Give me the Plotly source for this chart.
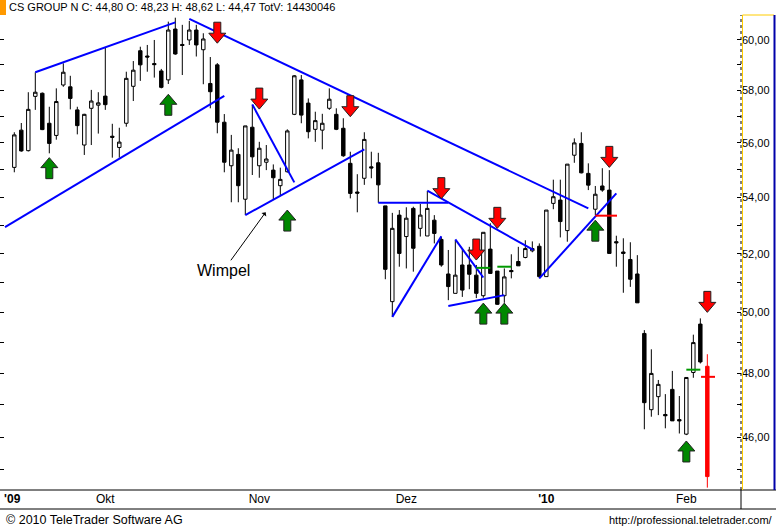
import math
import plotly.graph_objects as go

# ---------------- data (daily candles, trading-day index 0 = 14 Sep 2009) ----------------
open_ = [55.09, 56.48, 55.71, 57.77, 57.89, 56.74, 56.28, 58.21, 58.14, 57.25,
         55.92, 57.31, 57.43, 57.78, 56.25, 55.83, 56.74, 58.16, 59.56, 59.35,
         59.05, 58.76, 58.41, 60.43, 59.81, 59.99, 60.39, 59.60, 58.27, 59.00,
         56.78, 55.15, 55.57, 53.93, 56.59, 55.15, 55.28, 54.99, 54.42, 54.93,
         57.08, 58.41, 57.51, 56.51, 56.48, 57.31, 57.08, 56.55, 55.24, 54.19,
         54.69, 55.11, 55.26, 53.69, 50.36, 53.36, 52.60, 53.60, 52.89, 52.62,
         53.18, 52.50, 51.30, 50.64, 51.61, 51.61, 51.26, 50.56, 52.16, 51.40,
         50.56, 51.42, 51.73, 51.87, 52.10, 52.26, 51.21, 53.78, 53.90, 52.81,
         55.54, 55.98, 54.87, 53.57, 54.41, 54.26, 52.42, 52.06, 51.80, 51.30,
         49.30, 46.85, 47.26, 46.70, 47.49, 46.54, 46.09, 48.03, 49.61, 48.23]
high = [56.40, 56.75, 57.93, 58.71, 57.92, 57.37, 58.08, 59.06, 58.57, 57.37,
        57.10, 58.02, 57.93, 59.67, 56.72, 56.57, 58.73, 59.15, 59.72, 59.79,
        59.99, 58.84, 60.73, 60.89, 60.60, 60.76, 60.60, 60.26, 59.31, 59.07,
        57.09, 56.30, 55.80, 56.64, 57.44, 56.04, 55.92, 55.20, 55.08, 56.51,
        58.60, 58.60, 57.69, 57.18, 57.10, 58.08, 57.31, 56.93, 55.67, 54.84,
        56.40, 55.67, 55.63, 53.69, 53.44, 53.54, 53.64, 53.66, 53.76, 54.23,
        53.36, 52.59, 52.13, 52.47, 52.18, 52.24, 51.61, 52.75, 53.07, 51.40,
        51.49, 51.98, 52.24, 52.47, 52.43, 52.36, 53.54, 54.64, 54.64, 55.21,
        56.17, 56.40, 55.24, 54.41, 55.06, 54.99, 52.63, 52.54, 52.40, 51.95,
        49.41, 48.78, 47.79, 47.34, 48.08, 47.28, 47.87, 49.26, 49.80, 48.62]
low = [54.91, 55.67, 55.68, 57.25, 56.48, 55.61, 56.12, 58.14, 57.27, 56.32,
       55.55, 55.92, 56.35, 57.25, 55.45, 55.45, 56.61, 57.59, 58.37, 58.73,
       58.50, 58.08, 58.25, 59.40, 58.60, 59.79, 59.33, 58.24, 57.31, 56.36,
       54.91, 53.82, 53.82, 53.36, 54.81, 54.71, 54.99, 53.93, 54.08, 54.90,
       57.05, 56.74, 56.17, 56.04, 55.76, 57.25, 56.48, 55.48, 53.96, 53.46,
       54.45, 54.69, 53.80, 51.12, 49.85, 51.55, 51.49, 51.38, 52.60, 52.62,
       52.36, 51.55, 50.41, 50.64, 50.52, 50.78, 50.48, 50.49, 51.30, 50.25,
       50.32, 51.15, 51.58, 51.84, 52.05, 51.15, 51.21, 53.57, 52.57, 52.42,
       55.26, 54.87, 54.26, 53.36, 54.20, 52.01, 51.55, 50.66, 50.86, 50.32,
       46.24, 46.63, 46.68, 46.27, 46.50, 46.11, 46.06, 47.86, 48.32, 44.47]
close = [56.30, 55.70, 57.27, 57.93, 56.50, 55.98, 57.57, 58.71, 57.69, 56.65,
         57.08, 57.59, 57.52, 57.45, 56.21, 56.03, 58.47, 58.79, 59.00, 59.31,
         59.01, 58.12, 60.39, 59.43, 59.77, 60.39, 59.79, 60.03, 57.95, 56.78,
         55.28, 55.73, 54.42, 56.64, 55.48, 55.80, 55.40, 54.71, 54.65, 56.45,
         58.57, 57.05, 56.42, 56.84, 56.74, 57.66, 56.51, 55.52, 54.14, 54.15,
         56.13, 55.07, 54.45, 51.46, 52.89, 52.01, 53.25, 52.19, 53.36, 53.60,
         52.71, 51.61, 50.87, 51.26, 50.75, 51.29, 50.64, 52.75, 51.32, 50.27,
         51.20, 51.38, 51.58, 52.18, 52.18, 51.21, 53.54, 54.02, 53.13, 55.21,
         56.00, 54.89, 54.44, 54.11, 54.26, 52.01, 52.38, 52.01, 51.12, 50.32,
         47.07, 48.00, 47.65, 46.66, 46.50, 46.50, 47.87, 49.00, 48.37, 44.80]

month_tick_idx = [-0.3, 13, 35, 56, 76, 96]
month_tick_text = ["<b>'09</b>", "Okt", "Nov", "Dez", "<b>'10</b>", "Feb"]

price_ticks = list(range(45, 61))
price_tick_text = [f"{v},00" if v % 2 == 0 else "" for v in price_ticks]

# trend lines: start index, start price, end index, end price
trend_x0 = [-1.33, 3, 25, 34, 33, 52, 59, 54, 63, 62, 75]
trend_p0 = [52.93, 58.71, 60.84, 57.46, 53.36, 53.80, 54.24, 49.85, 52.50, 50.21, 51.15]
trend_x1 = [30, 23, 82, 40, 50, 62, 74.14, 61, 67, 70, 86]
trend_p1 = [57.79, 60.70, 53.60, 54.54, 55.76, 53.80, 52.13, 52.61, 51.18, 50.58, 54.14]

# signals (arrow tip positions)
sell_idx = [29, 35, 48, 61, 66, 69, 85, 99]
sell_price = [59.86, 57.28, 56.99, 53.95, 51.78, 52.89, 55.09, 50.00]
buy_idx = [5, 22, 39, 67, 70, 83, 96]
buy_price = [55.45, 57.85, 53.54, 50.31, 50.31, 53.18, 45.88]

# level markers
entry_x0 = [66, 69, 96]
entry_x1 = [68, 71, 98]
entry_price = [51.51, 51.55, 48.12]
stop_x0 = [83, 98.1]
stop_x1 = [86.1, 100.1]
stop_price = [53.34, 47.89]

header = "CS GROUP N C: 44,80 O: 48,23 H: 48,62 L: 44,47 TotV: 14430046"

# ---------------- layout constants ----------------
W, H = 776, 530
M_L, M_R, M_T, M_B = 0, 35, 15, 40
PLOT_W = W - M_L - M_R
PLOT_H = H - M_T - M_B
X_RANGE = [-2.043, 103.81]
P_MIN, P_MAX = 44.40, 61.0
px_per_idx = PLOT_W / (X_RANGE[1] - X_RANGE[0])
px_per_ln = PLOT_H / math.log(P_MAX / P_MIN)

FONT = "Liberation Sans, Arial, sans-serif"

fig = go.Figure()

n = len(open_)
idx = list(range(n))
fig.add_trace(go.Candlestick(
    x=idx[:-1], open=open_[:-1], high=high[:-1], low=low[:-1], close=close[:-1],
    increasing=dict(line=dict(color="black", width=1), fillcolor="white"),
    decreasing=dict(line=dict(color="black", width=1), fillcolor="black"),
    whiskerwidth=0, hoverinfo="skip", showlegend=False))
fig.add_trace(go.Candlestick(
    x=idx[-1:], open=open_[-1:], high=high[-1:], low=low[-1:], close=close[-1:],
    increasing=dict(line=dict(color="#ff0000", width=1), fillcolor="#ff0000"),
    decreasing=dict(line=dict(color="#ff0000", width=1), fillcolor="#ff0000"),
    whiskerwidth=0, hoverinfo="skip", showlegend=False))

# trend lines
tx, ty = [], []
for a, b, c, d in zip(trend_x0, trend_p0, trend_x1, trend_p1):
    tx += [a, c, None]
    ty += [b, d, None]
fig.add_trace(go.Scatter(x=tx, y=ty, mode="lines", line=dict(color="#0000ff", width=2),
                         hoverinfo="skip", showlegend=False))

# level markers
ex, ey = [], []
for a, c, p in zip(entry_x0, entry_x1, entry_price):
    ex += [a, c, None]
    ey += [p, p, None]
fig.add_trace(go.Scatter(x=ex, y=ey, mode="lines", line=dict(color="#009900", width=2),
                         hoverinfo="skip", showlegend=False))
sx, sy = [], []
for a, c, p in zip(stop_x0, stop_x1, stop_price):
    sx += [a, c, None]
    sy += [p, p, None]
fig.add_trace(go.Scatter(x=sx, y=sy, mode="lines", line=dict(color="#ff0000", width=2),
                         hoverinfo="skip", showlegend=False))

# block arrows
HW, HH, SW, TL = 8.5, 10, 3.5, 21
def arrow_poly(i, p, up):
    s = -1 if up else 1  # direction of body from tip (in screen-up pixels)
    pts = [(0, 0), (-HW, s * HH), (-SW, s * HH), (-SW, s * TL), (SW, s * TL), (SW, s * HH), (HW, s * HH), (0, 0)]
    xs = [i + dx / px_per_idx for dx, dy in pts]
    ys = [p * math.exp(dy / px_per_ln) for dx, dy in pts]
    return xs, ys

for (ii, pp, up, col) in [(sell_idx, sell_price, False, "#ff0000"), (buy_idx, buy_price, True, "#008800")]:
    ax_, ay_ = [], []
    for i, p in zip(ii, pp):
        xs, ys = arrow_poly(i, p, up)
        ax_ += xs + [None]
        ay_ += ys + [None]
    fig.add_trace(go.Scatter(x=ax_, y=ay_, mode="lines", fill="toself", fillcolor=col,
                             line=dict(color="#202020", width=1), hoverinfo="skip", showlegend=False))

# Wimpel annotation
fig.add_annotation(x=35.9, y=math.log10(53.46), xref="x", yref="y", text="Wimpel",
                   showarrow=True, arrowhead=1, arrowsize=1, arrowwidth=1, arrowcolor="black",
                   ax=-42, ay=58, font=dict(family=FONT, size=16, color="black"))

# header / footer
fig.add_annotation(xref="paper", yref="paper", x=7 / PLOT_W, y=1 + 7.5 / PLOT_H, xanchor="left", yanchor="middle",
                   text=header, showarrow=False, font=dict(family=FONT, size=11, color="black"))
fig.add_annotation(xref="paper", yref="paper", x=4 / PLOT_W, y=-30 / PLOT_H, xanchor="left", yanchor="middle",
                   text="© 2010 TeleTrader Software AG", showarrow=False, font=dict(family=FONT, size=12.5, color="black"))
fig.add_annotation(xref="paper", yref="paper", x=775 / PLOT_W, y=-30 / PLOT_H, xanchor="right", yanchor="middle",
                   text="http://professional.teletrader.com/", showarrow=False, font=dict(family=FONT, size=11, color="black"))

shapes = [
    dict(type="rect", xref="paper", yref="paper", x0=-0.01, x1=6 / PLOT_W, y0=1, y1=1 + 15 / PLOT_H,
         fillcolor="#ff9900", line=dict(width=0)),
    dict(type="line", xref="paper", yref="paper", x0=0, x1=W / PLOT_W, y0=0, y1=0, line=dict(color="black", width=1)),
    dict(type="line", xref="paper", yref="paper", x0=0, x1=W / PLOT_W, y0=-19 / PLOT_H, y1=-19 / PLOT_H,
         line=dict(color="black", width=1)),
    dict(type="line", xref="paper", yref="paper", x0=1, x1=1, y0=-19 / PLOT_H, y1=0, line=dict(color="black", width=1)),
    dict(type="line", xref="paper", yref="paper", x0=1, x1=1, y0=0, y1=1, line=dict(color="black", width=1, dash="dot")),
    dict(type="line", xref="paper", yref="paper", x0=1 + 1.5 / PLOT_W, x1=1 + 1.5 / PLOT_W, y0=0, y1=1,
         line=dict(color="#ffcc00", width=1)),
    dict(type="line", xref="paper", yref="paper", x0=1 + 1.5 / PLOT_W, x1=1 + 33 / PLOT_W, y0=1, y1=1,
         line=dict(color="#ffcc00", width=1)),
    dict(type="line", xref="paper", yref="paper", x0=1 + 33.5 / PLOT_W, x1=1 + 33.5 / PLOT_W, y0=0, y1=1,
         line=dict(color="#0000aa", width=2)),
]

fig.update_layout(
    width=W, height=H, margin=dict(l=M_L, r=M_R, t=M_T, b=M_B),
    paper_bgcolor="white", plot_bgcolor="white", showlegend=False,
    font=dict(family=FONT, size=11, color="black"),
    shapes=shapes,
    xaxis=dict(type="linear", range=X_RANGE, rangeslider=dict(visible=False), showgrid=False, zeroline=False,
               tickmode="array", tickvals=month_tick_idx, ticktext=month_tick_text, ticks="",
               showline=False, tickfont=dict(family=FONT, size=12, color="black")),
    yaxis=dict(type="log", range=[math.log10(P_MIN), math.log10(P_MAX)], side="right", showgrid=False,
               zeroline=False, tickmode="array", tickvals=price_ticks, ticktext=price_tick_text,
               ticks="inside", ticklen=4, tickcolor="black", mirror="ticks", showline=False,
               tickfont=dict(family=FONT, size=11, color="black")),
)

fig.write_html("out.html")
